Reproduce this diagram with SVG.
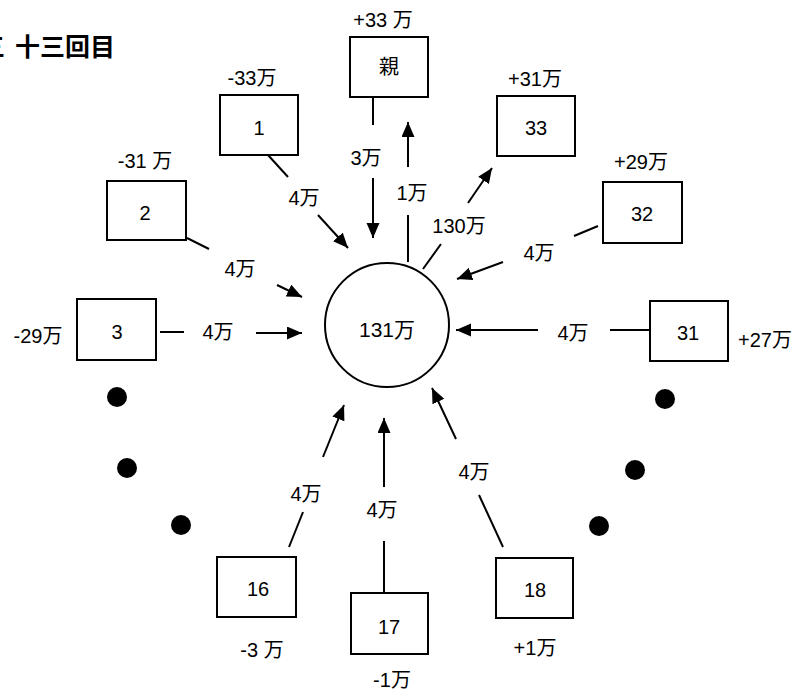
<svg xmlns="http://www.w3.org/2000/svg" width="798" height="698" viewBox="0 0 798 698">
<defs>
<style>
.box{fill:#fff;stroke:#000;stroke-width:2}
.ln{stroke:#000;stroke-width:2;fill:none}
.ar{stroke:#000;stroke-width:2;fill:none;marker-end:url(#ah)}
text{font-family:"Liberation Sans","Noto Sans CJK JP",sans-serif;fill:#000;text-anchor:middle}
.lb{font-size:20px}
.nt{font-size:20px}
.dot{fill:#000}
</style>
<marker id="ah" markerUnits="userSpaceOnUse" markerWidth="16" markerHeight="14" refX="15" refY="6.5" orient="auto">
<path d="M0,0 L15,6.5 L0,13 z" fill="#000"/>
</marker>
</defs>
<rect width="798" height="698" fill="#fff"/>
<text x="-20" y="56" style="font-size:25px;font-weight:700;text-anchor:start;font-family:'Noto Sans CJK JP',sans-serif">三<tspan x="15">十三回目</tspan></text>

<g id="center">
<circle cx="387" cy="325" r="62" class="box"/>
<text x="387" y="337" style="font-size:21px">131万</text>
</g>

<g id="node-oya">
<rect x="350" y="37" width="78" height="60" class="box"/>
<text class="nt" x="389" y="74">親</text>
<text class="lb" x="383" y="27">+33 万</text>
</g>
<g id="node-1">
<rect x="220" y="95" width="78" height="60" class="box"/>
<text class="nt" x="259" y="135">1</text>
<text class="lb" x="252" y="85">-33万</text>
</g>
<g id="node-2">
<rect x="107" y="181" width="79" height="59" class="box"/>
<text class="nt" x="145" y="220">2</text>
<text class="lb" x="145" y="168">-31 万</text>
</g>
<g id="node-3">
<rect x="77" y="299" width="79" height="61" class="box"/>
<text class="nt" x="117" y="339">3</text>
<text class="lb" x="38" y="343">-29万</text>
</g>
<g id="node-33">
<rect x="497" y="96" width="78" height="60" class="box"/>
<text class="nt" x="536" y="135">33</text>
<text class="lb" x="535" y="86">+31万</text>
</g>
<g id="node-32">
<rect x="603" y="182" width="79" height="61" class="box"/>
<text class="nt" x="642" y="221">32</text>
<text class="lb" x="641" y="169">+29万</text>
</g>
<g id="node-31">
<rect x="650" y="301" width="78" height="60" class="box"/>
<text class="nt" x="688" y="340">31</text>
<text class="lb" x="765" y="347">+27万</text>
</g>
<g id="node-16">
<rect x="217" y="557" width="79" height="60" class="box"/>
<text class="nt" x="258" y="596">16</text>
<text class="lb" x="262" y="657">-3 万</text>
</g>
<g id="node-17">
<rect x="351" y="593" width="77" height="61" class="box"/>
<text class="nt" x="389" y="634">17</text>
<text class="lb" x="392" y="687">-1万</text>
</g>
<g id="node-18">
<rect x="496" y="558" width="77" height="60" class="box"/>
<text class="nt" x="535" y="597">18</text>
<text class="lb" x="535" y="655">+1万</text>
</g>

<g id="ellipsis-dots">
<circle class="dot" cx="117" cy="397" r="10"/>
<circle class="dot" cx="127" cy="468" r="10"/>
<circle class="dot" cx="181" cy="525" r="10"/>
<circle class="dot" cx="665" cy="399" r="10"/>
<circle class="dot" cx="635" cy="470" r="10"/>
<circle class="dot" cx="599" cy="526" r="10"/>
</g>

<g id="connectors">
<line class="ln" x1="268" y1="155" x2="288" y2="177"/>
<text class="lb" x="304" y="205">4万</text>
<line class="ar" x1="318" y1="215" x2="348" y2="248"/>
<line class="ln" x1="373" y1="97" x2="373" y2="125"/>
<text class="lb" x="366" y="165">3万</text>
<line class="ar" x1="373" y1="178" x2="373" y2="238"/>
<line class="ln" x1="408" y1="262" x2="408" y2="215"/>
<text class="lb" x="412" y="200">1万</text>
<line class="ar" x1="408" y1="167" x2="408" y2="122"/>
<line class="ln" x1="423" y1="269" x2="441" y2="244"/>
<text class="lb" x="459" y="233">130万</text>
<line class="ar" x1="468" y1="203" x2="492" y2="168"/>
<line class="ln" x1="598" y1="226" x2="574" y2="236"/>
<text class="lb" x="539" y="260">4万</text>
<line class="ar" x1="503" y1="262" x2="457" y2="279"/>
<line class="ln" x1="650" y1="330" x2="610" y2="330"/>
<text class="lb" x="573" y="340">4万</text>
<line class="ar" x1="538" y1="330" x2="456" y2="330"/>
<line class="ln" x1="187" y1="238" x2="209" y2="249"/>
<text class="lb" x="240" y="276">4万</text>
<line class="ar" x1="277" y1="285" x2="302" y2="297"/>
<line class="ln" x1="160" y1="332" x2="184" y2="332"/>
<text class="lb" x="218" y="339">4万</text>
<line class="ar" x1="256" y1="333" x2="302" y2="333"/>
<line class="ln" x1="289" y1="547" x2="303" y2="512"/>
<text class="lb" x="306" y="501">4万</text>
<line class="ar" x1="323" y1="457" x2="344" y2="405"/>
<line class="ln" x1="384" y1="593" x2="384" y2="541"/>
<text class="lb" x="382" y="517">4万</text>
<line class="ar" x1="384" y1="487" x2="384" y2="418"/>
<line class="ln" x1="503" y1="547" x2="479" y2="495"/>
<text class="lb" x="474" y="479">4万</text>
<line class="ar" x1="456" y1="439" x2="432" y2="388"/>
</g>
</svg>
